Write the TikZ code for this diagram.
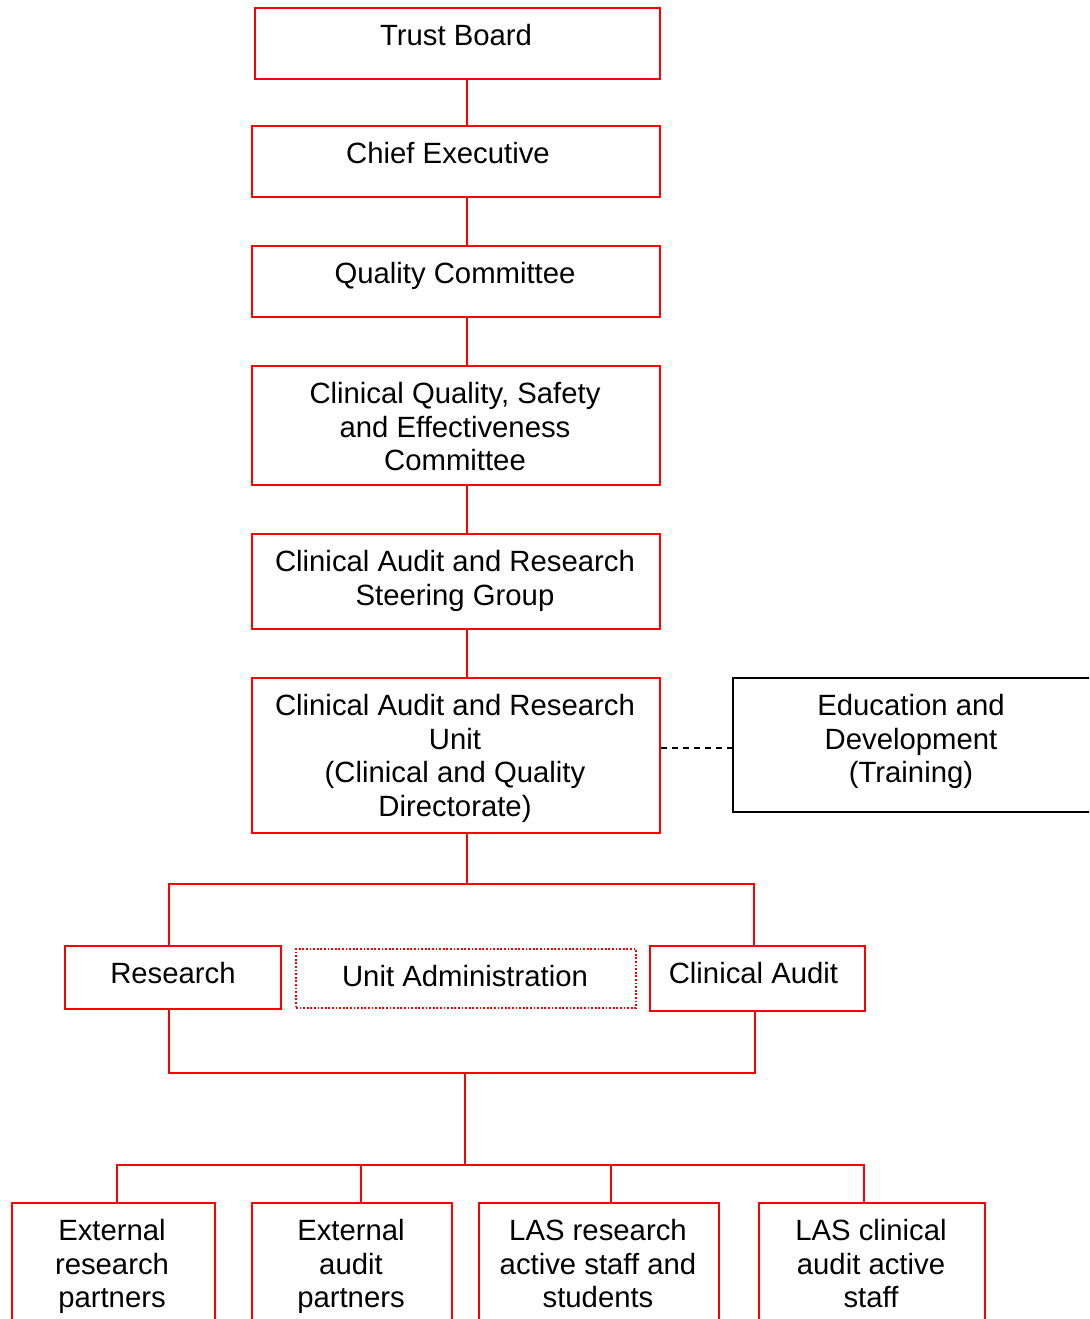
\documentclass[tikz,border=0pt]{standalone}
\usepackage{fontspec}
\setmainfont{Liberation Sans}
\newcommand\ms{\rule{0pt}{22pt}}
\tikzset{
  rbox/.style={draw=red, line width=2pt, inner sep=0pt, anchor=north west},
  kbox/.style={draw=black, line width=1.6pt, inner sep=0pt, anchor=north west},
  dbox/.style={draw=red, line width=1.8pt, dash pattern=on 1.8pt off 1.8pt, inner sep=0pt, anchor=north west},
  lbl/.style={font=\fontsize{29.3}{33.5}\selectfont, align=center, anchor=north, inner sep=0pt},
  conn/.style={draw=red, line width=2pt},
  dconn/.style={draw=black, line width=1.5pt, dash pattern=on 6pt off 5pt},
}
\begin{document}
\begin{tikzpicture}[x=1pt,y=1pt]
\clip (0,0) rectangle (1089,-1319);
\fill[white] (0,0) rectangle (1089,-1319);
% boxes
\node[rbox, minimum width=405pt, minimum height=71pt] (tb) at (254,-7) {};
\node[rbox, minimum width=408pt, minimum height=71pt] (ce) at (251,-125) {};
\node[rbox, minimum width=408pt, minimum height=71pt] (qc) at (251,-245) {};
\node[rbox, minimum width=408pt, minimum height=119pt] (cq) at (251,-365) {};
\node[rbox, minimum width=408pt, minimum height=95pt] (sg) at (251,-533) {};
\node[rbox, minimum width=408pt, minimum height=155pt] (un) at (251,-677) {};
\node[kbox, minimum width=400pt, minimum height=134pt] (ed) at (732,-677) {};
\node[rbox, minimum width=216pt, minimum height=63pt] (res) at (64,-945) {};
\node[dbox, minimum width=340pt, minimum height=59pt] (ua) at (295,-948) {};
\node[rbox, minimum width=215pt, minimum height=65pt] (ca) at (649,-945) {};
\node[rbox, minimum width=203pt, minimum height=200pt] (b1) at (11,-1202) {};
\node[rbox, minimum width=200pt, minimum height=200pt] (b2) at (251,-1202) {};
\node[rbox, minimum width=240pt, minimum height=200pt] (b3) at (478,-1202) {};
\node[rbox, minimum width=226pt, minimum height=200pt] (b4) at (758,-1202) {};
% labels
\node[lbl] (tbt) at (456,-23.5) {\ms Trust Board};
\node[lbl] (cet) at (448,-141.5) {\ms Chief Executive};
\node[lbl] (qct) at (455,-261.5) {\ms Quality Committee};
\node[lbl] (cqt) at (455,-381.5) {\ms Clinical Quality, Safety\\and Effectiveness\\Committee};
\node[lbl] (sgt) at (455,-549.5) {\ms Clinical Audit and Research\\Steering Group};
\node[lbl] (unt) at (455,-693.5) {\ms Clinical Audit and Research\\Unit\\(Clinical and Quality\\Directorate)};
\node[lbl] (edt) at (911,-693.5) {\ms Education and\\Development\\(Training)};
\node[lbl] (rest) at (173,-961.5) {\ms Research};
\node[lbl] (uat) at (465,-964.5) {\ms Unit Administration};
\node[lbl] (cat) at (753.5,-961.5) {\ms Clinical Audit};
\node[lbl] (b1t) at (112,-1218.5) {\ms External\\research\\partners};
\node[lbl] (b2t) at (351,-1218.5) {\ms External\\audit\\partners};
\node[lbl] (b3t) at (598,-1218.5) {\ms LAS research\\active staff and\\students};
\node[lbl] (b4t) at (871,-1218.5) {\ms LAS clinical\\audit active\\staff};
% helper coordinates
\coordinate (cx) at (467,0);
\coordinate (hl) at (169,-884);
\coordinate (hr) at (754,-884);
\coordinate (gl) at (169,-1073);
\coordinate (gr) at (755,-1073);
\coordinate (gm) at (465,-1073);
\coordinate (fm) at (465,-1165);
\coordinate (fl) at (117,-1165);
\coordinate (fr) at (864,-1165);
\coordinate (c2) at (361,0);
\coordinate (c3) at (611,0);
\coordinate (dy) at (0,-748);
% connectors
\draw[conn] (tb.south -| cx) -- (ce.north -| cx);
\draw[conn] (ce.south -| cx) -- (qc.north -| cx);
\draw[conn] (qc.south -| cx) -- (cq.north -| cx);
\draw[conn] (cq.south -| cx) -- (sg.north -| cx);
\draw[conn] (sg.south -| cx) -- (un.north -| cx);
\draw[conn] (un.south -| cx) -- (cx |- hl);
\draw[conn] (res.north -| hl) -- (hl) -- (hr) -- (ca.north -| hr);
\draw[conn] (res.south -| gl) -- (gl) -- (gr) -- (ca.south -| gr);
\draw[conn] (gm) -- (fm);
\draw[conn] (b1.north -| fl) -- (fl) -- (fr) -- (b4.north -| fr);
\draw[conn] (b2.north -| c2) -- (c2 |- fl);
\draw[conn] (b3.north -| c3) -- (c3 |- fl);
\draw[dconn] (un.east |- dy) -- (ed.west |- dy);
\end{tikzpicture}
\end{document}
